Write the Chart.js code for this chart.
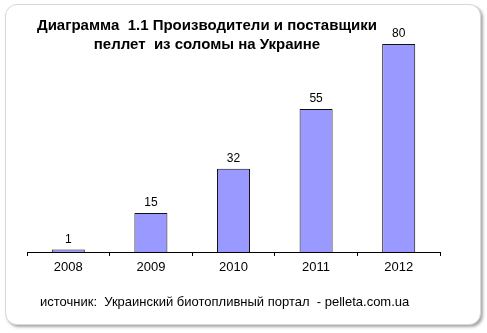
<!DOCTYPE html>
<html>
<head>
<meta charset="utf-8">
<script src="https://cdn.jsdelivr.net/npm/chart.js@4"></script>
<style>
    html, body { margin: 0; padding: 0; background: #fff; }
    #wrap { position: relative; width: 487px; height: 333px; }
    #card {
        position: absolute; left: 5px; top: 4px; width: 474px; height: 319px;
        border: 1px solid #d8d8d8; border-radius: 12px; background: #fff;
        box-shadow: 2px 2px 3px rgba(0,0,0,0.35);
    }
    #chart { position: absolute; left: 0; top: 0; }
</style>
</head>
<body>
<div id="wrap">
    <div id="card"></div>
    <canvas id="chart" width="487" height="333"></canvas>
</div>
<script>
var years = ["2008", "2009", "2010", "2011", "2012"];
var producers = [1, 15, 32, 55, 80];
var titleLines = ["Диаграмма  1.1 Производители и поставщики", "пеллет  из соломы на Украине"];
var sourceText = "источник:  Украинский биотопливный портал  - pelleta.com.ua";

var FONT = "'Liberation Sans', Arial, sans-serif";

// value labels above bars, title and source line
var textPlugin = {
    id: "textPlugin",
    afterDatasetsDraw: function (chart) {
        var ctx = chart.ctx;
        var meta = chart.getDatasetMeta(0);
        ctx.save();
        ctx.fillStyle = "#000";
        ctx.textAlign = "center";
        ctx.textBaseline = "bottom";
        ctx.font = "12px " + FONT;
        meta.data.forEach(function (bar, i) {
            ctx.fillText(producers[i], bar.x, bar.y - 4);
        });

        ctx.font = "bold 15px " + FONT;
        ctx.textBaseline = "middle";
        ctx.fillText(titleLines[0], 207, 26);
        ctx.fillText(titleLines[1], 207, 45);

        ctx.font = "13px " + FONT;
        ctx.textAlign = "left";
        ctx.fillText(sourceText, 40, 302);
        ctx.restore();
    }
};

var data = {
    labels: years,
    datasets: [
        {
            data: producers,
            backgroundColor: "#9999ff",
            borderColor: "#111",
            borderWidth: 1,
            barPercentage: 0.4,
            categoryPercentage: 1
        }
    ]
};

var options = {
    responsive: false,
    animation: false,
    layout: { padding: { left: 27, right: 47, top: 44, bottom: 0 } },
    plugins: { legend: { display: false }, tooltip: { enabled: false }, title: { display: false } },
    scales: {
        x: {
            offset: true,
            afterFit: function (scale) { scale.height = 81; },
            grid: { display: true, drawOnChartArea: false, tickLength: 4, color: "#000", offset: true },
            border: { display: true, color: "#000", width: 1 },
            ticks: { color: "#000", font: { size: 13, family: FONT }, padding: 4 }
        },
        y: { display: false, min: 0, max: 80 }
    }
};

var ctx = document.getElementById("chart").getContext("2d");
new Chart(ctx, { type: "bar", data: data, options: options, plugins: [textPlugin] });
</script>
</body>
</html>
